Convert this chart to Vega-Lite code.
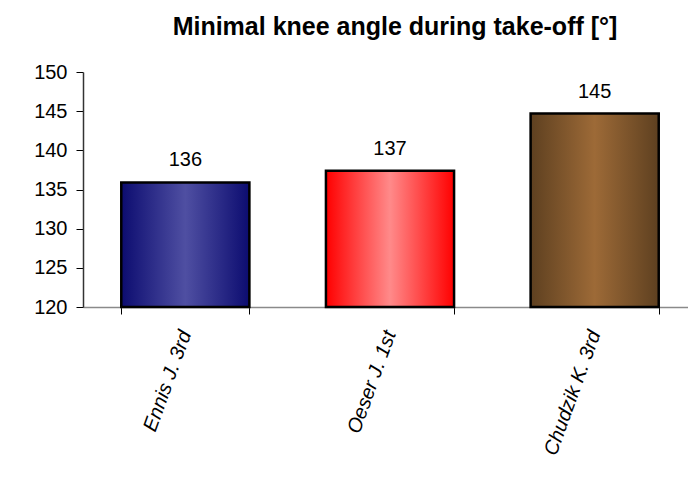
{
  "$schema": "https://vega.github.io/schema/vega-lite/v6.json",
  "width": 614,
  "height": 235,
  "autosize": "none",
  "padding": {"left": 83, "top": 72, "right": 0, "bottom": 171},
  "background": "white",
  "title": {
    "text": "Minimal knee angle during take-off [°]",
    "font": "Liberation Sans",
    "fontSize": 25,
    "fontWeight": "bold",
    "color": "black",
    "anchor": "middle",
    "frame": "group",
    "baseline": "alphabetic",
    "offset": 2,
    "dx": 5
  },
  "data": {
    "values": [
      {"name": "Ennis J. 3rd", "value": 135.9},
      {"name": "Oeser J. 1st", "value": 137.4},
      {"name": "Chudzik K. 3rd", "value": 144.7}
    ]
  },
  "encoding": {
    "x": {
      "field": "name",
      "type": "nominal",
      "sort": null,
      "scale": {"paddingInner": 0.374, "paddingOuter": 0.187},
      "axis": {
        "title": null,
        "labelAngle": -70,
        "labelFont": "Liberation Sans",
        "labelFontSize": 20,
        "labelFontStyle": "italic",
        "labelColor": "black",
        "labelPadding": 17,
        "tickBand": "extent",
        "tickSize": 7,
        "tickColor": "black",
        "domainColor": "#8a8a8a",
        "domainWidth": 1.5
      }
    },
    "y": {
      "field": "value",
      "type": "quantitative",
      "scale": {"domain": [120, 150], "zero": false, "nice": false},
      "axis": {
        "title": null,
        "values": [120, 125, 130, 135, 140, 145, 150],
        "grid": false,
        "labelFont": "Liberation Sans",
        "labelFontSize": 20,
        "labelColor": "black",
        "labelPadding": 9,
        "tickSize": 7,
        "tickColor": "black",
        "domainColor": "#333333",
        "domainWidth": 1.5
      }
    }
  },
  "layer": [
    {
      "transform": [{"filter": "datum.name === 'Ennis J. 3rd'"}],
      "mark": {
        "type": "bar",
        "stroke": "black",
        "strokeWidth": 2.5,
        "color": {
          "gradient": "linear", "x1": 0, "y1": 0, "x2": 1, "y2": 0,
          "stops": [
            {"offset": 0, "color": "#0c0c70"},
            {"offset": 0.5, "color": "#4f4fa2"},
            {"offset": 1, "color": "#0c0c70"}
          ]
        }
      },
      "encoding": {"y2": {"datum": 120}}
    },
    {
      "transform": [{"filter": "datum.name === 'Oeser J. 1st'"}],
      "mark": {
        "type": "bar",
        "stroke": "black",
        "strokeWidth": 2.5,
        "color": {
          "gradient": "linear", "x1": 0, "y1": 0, "x2": 1, "y2": 0,
          "stops": [
            {"offset": 0, "color": "#ff0000"},
            {"offset": 0.5, "color": "#ff8a8a"},
            {"offset": 1, "color": "#ff0000"}
          ]
        }
      },
      "encoding": {"y2": {"datum": 120}}
    },
    {
      "transform": [{"filter": "datum.name === 'Chudzik K. 3rd'"}],
      "mark": {
        "type": "bar",
        "stroke": "black",
        "strokeWidth": 2.5,
        "color": {
          "gradient": "linear", "x1": 0, "y1": 0, "x2": 1, "y2": 0,
          "stops": [
            {"offset": 0, "color": "#5e4020"},
            {"offset": 0.5, "color": "#9d6a37"},
            {"offset": 1, "color": "#5e4020"}
          ]
        }
      },
      "encoding": {"y2": {"datum": 120}}
    },
    {
      "mark": {
        "type": "text",
        "font": "Liberation Sans",
        "fontSize": 20,
        "color": "black",
        "baseline": "alphabetic",
        "dy": -16
      },
      "encoding": {"text": {"field": "value", "type": "quantitative", "format": ".0f"}}
    }
  ],
  "config": {
    "view": {"stroke": null}
  }
}
